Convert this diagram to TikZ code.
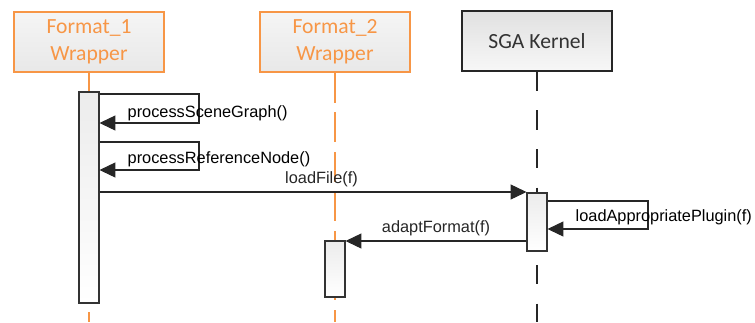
\documentclass[tikz,border=0pt]{standalone}
\usepackage{fontspec}
\setmainfont{Liberation Sans}
\newfontfamily\hdrfont{Carlito}
\usetikzlibrary{arrows.meta,shadows}

\definecolor{wrapOrange}{RGB}{247,150,70}

\begin{document}
\begin{tikzpicture}[
        x=0.02cm, y=-0.02cm,
        thick,
        hdr/.style={rectangle, draw=wrapOrange, line width=1.1pt, top color=gray!8, bottom color=gray!18, minimum width=3cm, minimum height=1.2cm, text centered, align=center, text=wrapOrange, font=\hdrfont\fontsize{12.3}{15.5}\selectfont, drop shadow={opacity=0.2, shadow xshift=0.8pt, shadow yshift=-0.8pt}},
        hdrk/.style={hdr, draw=black!85, line width=0.9pt, text=black!80, top color=gray!24, bottom color=gray!6},
        act/.style={rectangle, draw=black!80, line width=0.6pt, top color=gray!15, bottom color=white, minimum width=0.4cm, inner sep=0pt, drop shadow={opacity=0.2, shadow xshift=0.8pt, shadow yshift=-0.8pt}},
        life/.style={wrapOrange, line width=1pt, dash pattern=on 17pt off 5.5pt},
        lifek/.style={black!85, line width=1pt, dash pattern=on 11pt off 11pt},
        msg/.style={-{Triangle[length=9pt, width=8.5pt]}, line width=0.6pt, black!85},
        lbl/.style={font=\fontsize{9.3}{11}\selectfont, inner sep=0pt}
    ]
        \useasboundingbox (0,0) rectangle (755,322);

        % Lifeline heads
        \node[hdr] (wrap1) at (89,42) {Format\_1\\Wrapper};
        \node[hdr] (wrap2) at (335,42) {Format\_2\\Wrapper};
        \node[hdrk] (kernel) at (537,41) {SGA Kernel};

        % Lifelines
        \coordinate (end1) at (89,322);
        \coordinate (end2) at (335,322);
        \coordinate (end3) at (537,322);
        \draw[wrapOrange, line width=1pt] (wrap1.south) -- (89,92);
        \draw[wrapOrange, line width=1pt] (89,312) -- (end1);
        \draw[life] (wrap2.south) -- (end2);
        \draw[lifek] (kernel.south) -- (end3);

        % Activations
        \node[act, minimum height=4.22cm] (act1) at (89,197.5) {};
        \node[act, minimum height=1.12cm] (act2) at (335,269) {};
        \node[act, minimum height=1.16cm] (act3) at (537,222) {};

        % Self calls of Format_1 Wrapper
        \coordinate (sgTop) at (199,94);
        \coordinate (sgBot) at (199,123);
        \draw[msg] (act1.east |- sgTop) -- (sgTop) -- (sgBot) -- (act1.east |- sgBot);
        \node[lbl, anchor=west] at (127,113) {processSceneGraph()};

        \coordinate (rnTop) at (199,142);
        \coordinate (rnBot) at (199,170);
        \draw[msg] (act1.east |- rnTop) -- (rnTop) -- (rnBot) -- (act1.east |- rnBot);
        \node[lbl, anchor=west] at (127,159) {processReferenceNode()};

        % Call to the kernel
        \coordinate (lf) at (0,192);
        \draw[msg] (act1.east |- lf) -- (act3.west |- lf) node[lbl, pos=0.52, above=2.5pt] {loadFile(f)};

        % Self call of SGA Kernel
        \coordinate (lpTop) at (648,201);
        \coordinate (lpBot) at (648,229);
        \draw[msg] (act3.east |- lpTop) -- (lpTop) -- (lpBot) -- (act3.east |- lpBot);
        \node[lbl, anchor=west] at (575,217) {loadAppropriatePlugin(f)};

        % Back to Format_2 Wrapper
        \coordinate (af) at (0,241);
        \draw[msg] (act3.west |- af) -- (act2.east |- af) node[lbl, pos=0.5, above=2.5pt] {adaptFormat(f)};

    \end{tikzpicture}
\end{document}
